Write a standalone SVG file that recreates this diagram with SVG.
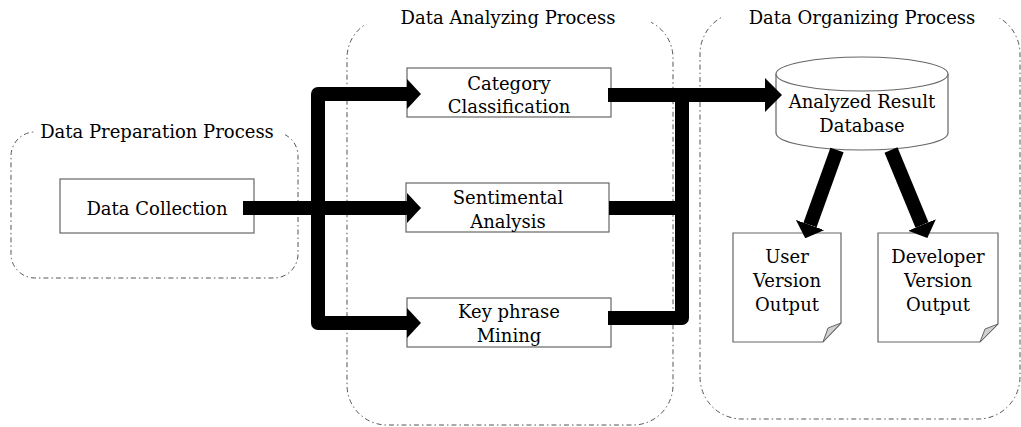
<svg xmlns="http://www.w3.org/2000/svg" width="1021" height="427" viewBox="0 0 1021 427">
  <style>
    .cluster { fill: none; stroke: #555; stroke-width: 1; stroke-dasharray: 5 3 1.5 3; }
    .mask { fill: #fff; stroke: none; }
    .box { fill: #fff; stroke: #666; stroke-width: 1.2; }
    .fold { fill: #d0d0d0; stroke: #666; stroke-width: 1; }
    .t { font-family: 'DejaVu Serif', 'Liberation Serif', serif; font-size: 18px; fill: #000; text-anchor: middle; }
    .bar { fill: none; stroke: #000; stroke-width: 14; stroke-linejoin: round; }
  </style>
  <defs>
    <marker id="head" markerUnits="userSpaceOnUse" markerWidth="14" markerHeight="30" viewBox="0 0 14 30" refX="0" refY="15" orient="auto">
      <path d="M0,0 L14,15 L0,30 z" fill="#000"/>
    </marker>
    <marker id="bighead" markerUnits="userSpaceOnUse" markerWidth="17" markerHeight="34" viewBox="0 0 17 34" refX="0" refY="17" orient="auto">
      <path d="M0,0 L17,17 L0,34 z" fill="#000"/>
    </marker>
  </defs>

  <g id="cluster-preparation">
    <rect class="cluster" x="11" y="132" width="287" height="146" rx="24" ry="24"/>
    <rect class="mask" x="34" y="122" width="251" height="14"/>
    <text class="t" x="157" y="138">Data Preparation Process</text>
  </g>
  <g id="cluster-analyzing">
    <rect class="cluster" x="347" y="18" width="326" height="407" rx="40" ry="40"/>
    <rect class="mask" x="366" y="8" width="285" height="16"/>
    <text class="t" x="508" y="24">Data Analyzing Process</text>
  </g>
  <g id="cluster-organizing">
    <rect class="cluster" x="700" y="12" width="320" height="407" rx="42" ry="42"/>
    <rect class="mask" x="722" y="2" width="285" height="16"/>
    <text class="t" x="862" y="24">Data Organizing Process</text>
  </g>

  <g id="node-data-collection">
    <rect class="box" x="60" y="179" width="194" height="54"/>
    <text class="t" x="157" y="215">Data Collection</text>
  </g>
  <g id="node-category">
    <rect class="box" x="407" y="68" width="204" height="49"/>
    <text class="t" x="509" y="90">Category</text>
    <text class="t" x="509" y="113">Classification</text>
  </g>
  <g id="node-sentimental">
    <rect class="box" x="406" y="183" width="203" height="49"/>
    <text class="t" x="508" y="204">Sentimental</text>
    <text class="t" x="508" y="228">Analysis</text>
  </g>
  <g id="node-keyphrase">
    <rect class="box" x="407" y="298" width="204" height="49"/>
    <text class="t" x="509" y="318">Key phrase</text>
    <text class="t" x="509" y="342">Mining</text>
  </g>
  <g id="node-database">
    <path class="box" d="M776 74 V133 A86 17 0 0 0 948 133 V74"/>
    <ellipse class="box" cx="862" cy="74" rx="86" ry="17"/>
    <text class="t" x="862" y="108">Analyzed Result</text>
    <text class="t" x="862" y="132">Database</text>
  </g>
  <g id="node-user-output">
    <path class="box" d="M733 233 H841 V323 L823 342 H733 Z"/>
    <path class="fold" d="M823 342 L841 323 L828 328 Z"/>
    <text class="t" x="787" y="263">User</text>
    <text class="t" x="787" y="287">Version</text>
    <text class="t" x="787" y="311">Output</text>
  </g>
  <g id="node-developer-output">
    <path class="box" d="M878 233 H998 V324 L980 342 H878 Z"/>
    <path class="fold" d="M980 342 L998 324 L985 329 Z"/>
    <text class="t" x="938" y="263">Developer</text>
    <text class="t" x="938" y="287">Version</text>
    <text class="t" x="938" y="311">Output</text>
  </g>

  <g id="connectors">
    <path class="bar" d="M318 200 V94 H407" marker-end="url(#head)"/>
    <path class="bar" d="M318 200 V323 H407" marker-end="url(#head)"/>
    <path class="bar" d="M243 208 H407" marker-end="url(#head)"/>
    <path class="bar" d="M608 318 H682 V95"/>
    <path class="bar" d="M609 208 H682"/>
    <path class="bar" d="M608 95 H765" marker-end="url(#bighead)"/>
    <path class="bar" d="M837 150 L810 225" marker-end="url(#head)"/>
    <path class="bar" d="M891 150 L922 225" marker-end="url(#head)"/>
  </g>
</svg>
